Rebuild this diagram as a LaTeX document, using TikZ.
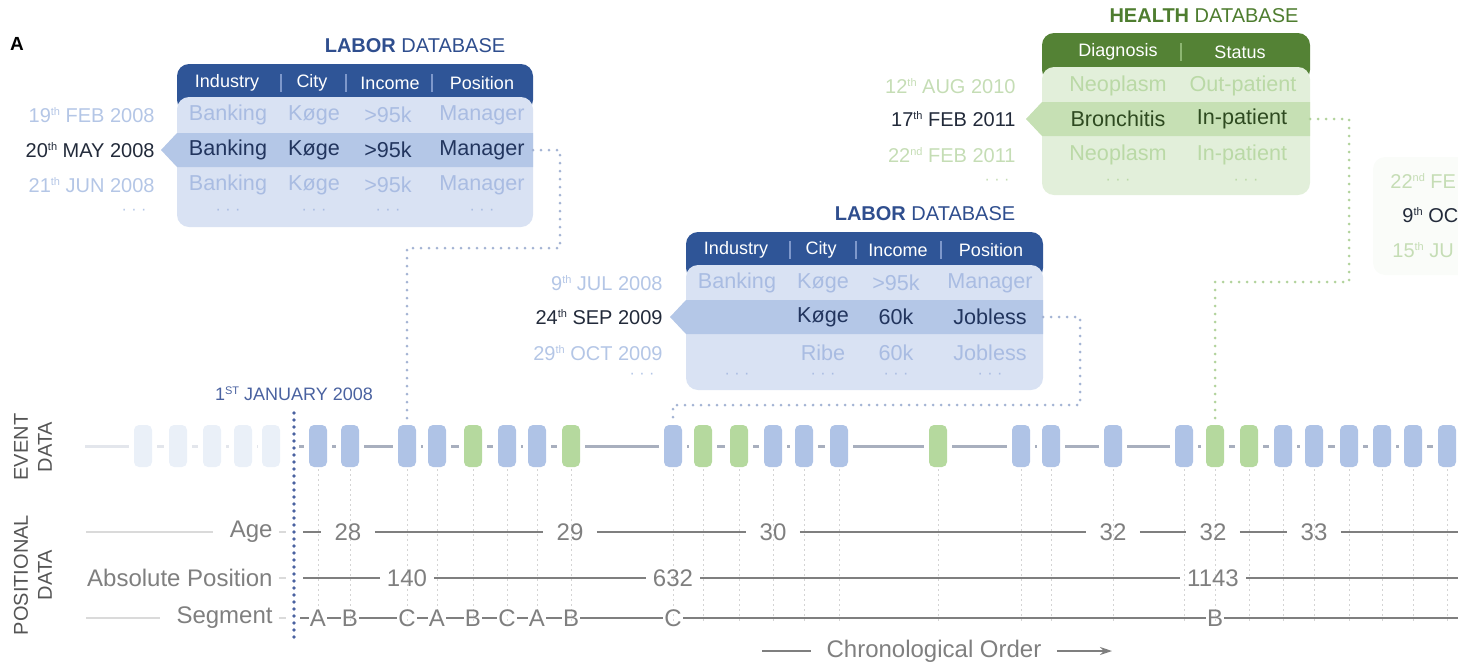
\documentclass[tikz,border=0pt]{standalone}
\usepackage{fontspec}
\setmainfont{Liberation Sans}
\usetikzlibrary{arrows.meta}

\definecolor{clabdark}{HTML}{2F5597}
\definecolor{clabttl}{HTML}{2F4E8E}
\definecolor{clabbody}{HTML}{D9E2F3}
\definecolor{clabhi}{HTML}{B4C7E7}
\definecolor{clablt}{HTML}{A9BCE2}
\definecolor{clabtx}{HTML}{22355E}
\definecolor{clabsep}{HTML}{7E98CB}
\definecolor{clabdate}{HTML}{B4C6E6}
\definecolor{clabdots}{HTML}{A4B4D4}
\definecolor{chltdark}{HTML}{548235}
\definecolor{chltttl}{HTML}{4E7D2F}
\definecolor{chltbody}{HTML}{E2EFDA}
\definecolor{chlthi}{HTML}{C6E0B4}
\definecolor{chltlt}{HTML}{BAD9A6}
\definecolor{chlttx}{HTML}{2E4A20}
\definecolor{chltsep}{HTML}{8DB672}
\definecolor{chltdate}{HTML}{C5DDB5}
\definecolor{chltdots}{HTML}{B2D39C}
\definecolor{chltfade}{HTML}{FAFCF9}
\definecolor{cdark}{HTML}{222A3A}
\definecolor{cevb}{HTML}{AFC3E6}
\definecolor{cevg}{HTML}{B5D99E}
\definecolor{cevfade}{HTML}{EAF0F8}
\definecolor{cevline}{HTML}{A8AFBE}
\definecolor{cevfline}{HTML}{E3E6EC}
\definecolor{cdrop}{HTML}{D4D4D4}
\definecolor{cpos}{HTML}{7F7F7F}
\definecolor{cposlead}{HTML}{DADADA}
\definecolor{cyear}{HTML}{4A62A0}
\definecolor{clabel}{HTML}{555555}

% small raised ordinal
\newcommand{\ord}[1]{\raisebox{0.62ex}{\fontsize{5.5}{6}\selectfont #1}}

\tikzset{
    ttl/.style={font=\fontsize{10}{12}\selectfont},
    hdr/.style={text=white, font=\fontsize{9}{11}\selectfont},
    cell/.style={font=\fontsize{10.8}{13}\selectfont},
    date/.style={anchor=east, inner sep=0pt, font=\fontsize{10}{12}\selectfont},
    dotrow/.style={font=\fontsize{8}{9}\selectfont},
    colsep/.style={line width=0.6pt},
    evbox/.style={rounded corners=2.5pt, minimum width=9pt, minimum height=21pt, inner sep=0pt},
    evlink/.style={draw=cevline, line width=1.5pt, shorten <=2.5pt, shorten >=2.5pt},
    evfaded/.style={draw=cevfline, line width=1.5pt, shorten <=2.5pt, shorten >=2.5pt},
    droplink/.style={draw=cdrop, line width=0.5pt, dash pattern=on 1pt off 1.5pt},
    labdot/.style={draw=clabdots, line width=1.5pt, line cap=round, dash pattern=on 0pt off 4pt},
    hltdot/.style={draw=chltdots, line width=1.5pt, line cap=round, dash pattern=on 0pt off 4pt},
    yearline/.style={draw=cyear, line width=1.8pt, line cap=round, dash pattern=on 0pt off 3.5pt},
    posline/.style={draw=cpos, line width=1pt},
    poslead/.style={draw=cposlead, line width=1pt},
    postxt/.style={text=cpos, font=\fontsize{12}{14}\selectfont},
    poslbl/.style={postxt, anchor=east, inner sep=0pt},
    sidelbl/.style={text=clabel, rotate=90, align=center, font=\fontsize{10}{12}\selectfont},
}

\begin{document}
\begin{tikzpicture}[x=0.5pt, y=-0.5pt]
\useasboundingbox (0,0) rectangle (1458,665);

\node[font=\bfseries\fontsize{9.5}{10}\selectfont] (panel) at (17,44) {A};

% labor database (2008)
\node[ttl, text=clabttl] (lab1) at (415,46) {\textbf{LABOR} DATABASE};
\fill[clabdark, rounded corners=6pt] (177,64) rectangle (533,112);
\fill[clabbody, rounded corners=6pt] (177,97) rectangle (533,227);
\fill[clabhi] (533,133) -- (177,133) -- (161,150) -- (177,167) -- (533,167) -- cycle;
\foreach \x in {281,346,432}
    \draw[colsep, clabsep] (\x,74) -- (\x,92);
\foreach \t/\x [count=\j] in {Industry/227,City/312,Income/390,Position/482}
    \node[hdr] (h1\j) at (\x,83) {\t};
\foreach \t/\x [count=\j] in {Banking/228,Køge/314,>95k/388,Manager/482} {
    \node[cell, text=clablt] (r1a\j) at (\x,115) {\t};
    \node[cell, text=clabtx] (r1b\j) at (\x,150) {\t};
    \node[cell, text=clablt] (r1c\j) at (\x,185) {\t};
    \node[dotrow, text=clablt] (r1d\j) at (\x,212) {· · ·};
}
\node[date, text=clabdate] (d1a) at (155,115) {19\ord{th} FEB 2008};
\node[date, text=cdark] (d1b) at (155,150) {20\ord{th} MAY 2008};
\node[date, text=clabdate] (d1c) at (155,185) {21\ord{th} JUN 2008};
\node[dotrow, text=clabdate] (d1d) at (134,212) {· · ·};
\coordinate (lab1hi) at (533,150);

% labor database (2009)
\node[ttl, text=clabttl] (lab2) at (925,214) {\textbf{LABOR} DATABASE};
\fill[clabdark, rounded corners=6pt] (686,232) rectangle (1043,280);
\fill[clabbody, rounded corners=6pt] (686,265) rectangle (1043,390);
\fill[clabhi] (1043,300) -- (686,300) -- (670,317) -- (686,334) -- (1043,334) -- cycle;
\foreach \x in {790,856,941}
    \draw[colsep, clabsep] (\x,241) -- (\x,259);
\foreach \t/\x [count=\j] in {Industry/736,City/821,Income/898,Position/991}
    \node[hdr] (h2\j) at (\x,250) {\t};
\foreach \t/\x [count=\j] in {Banking/737,Køge/823,>95k/896,Manager/990}
    \node[cell, text=clablt] (r2a\j) at (\x,283) {\t};
\foreach \t/\x [count=\j] in {Køge/823,60k/896,Jobless/990}
    \node[cell, text=clabtx] (r2b\j) at (\x,317) {\t};
\foreach \t/\x [count=\j] in {Ribe/823,60k/896,Jobless/990}
    \node[cell, text=clablt] (r2c\j) at (\x,353) {\t};
\foreach \x [count=\j] in {737,823,896,990}
    \node[dotrow, text=clablt] (r2d\j) at (\x,376) {· · ·};
\node[date, text=clabdate] (d2a) at (663,283) {9\ord{th} JUL 2008};
\node[date, text=cdark] (d2b) at (663,317) {24\ord{th} SEP 2009};
\node[date, text=clabdate] (d2c) at (663,353) {29\ord{th} OCT 2009};
\node[dotrow, text=clabdate] (d2d) at (642,376) {· · ·};
\coordinate (lab2hi) at (1043,317);

% health database
\node[ttl, text=chltttl] (hlt) at (1204,16) {\textbf{HEALTH} DATABASE};
\fill[chltdark, rounded corners=6pt] (1042,33) rectangle (1310,82);
\fill[chltbody, rounded corners=6pt] (1042,67) rectangle (1310,195);
\fill[chlthi] (1310,102) -- (1042,102) -- (1026,119) -- (1042,136) -- (1310,136) -- cycle;
\draw[colsep, chltsep] (1181,43) -- (1181,61);
\node[hdr] (h31) at (1118,52) {Diagnosis};
\node[hdr] (h32) at (1240,52) {Status};
\node[cell, text=chltlt] (r3a1) at (1118,86) {Neoplasm};
\node[cell, text=chltlt] (r3a2) at (1243,86) {Out-patient};
\node[cell, text=chlttx] (r3b1) at (1118,119) {Bronchitis};
\node[cell, text=chlttx] (r3b2) at (1242,119) {In-patient};
\node[cell, text=chltlt] (r3c1) at (1118,155) {Neoplasm};
\node[cell, text=chltlt] (r3c2) at (1242,155) {In-patient};
\node[dotrow, text=chltlt] (r3d1) at (1118,182) {· · ·};
\node[dotrow, text=chltlt] (r3d2) at (1246,182) {· · ·};
\node[date, text=chltdate] (d3a) at (1016,86) {12\ord{th} AUG 2010};
\node[date, text=cdark] (d3b) at (1016,119) {17\ord{th} FEB 2011};
\node[date, text=chltdate] (d3c) at (1016,155) {22\ord{nd} FEB 2011};
\node[dotrow, text=chltdate] (d3d) at (997,182) {· · ·};
\coordinate (hlthi) at (1310,119);

% next table, cut at the edge
\fill[chltfade, rounded corners=6pt] (1373,157) rectangle (1500,275);
\node[date, anchor=west, text=chltdate] (d4a) at (1390,181) {22\ord{nd} FE};
\node[date, anchor=west, text=cdark] (d4b) at (1402,215) {9\ord{th} OC};
\node[date, anchor=west, text=chltdate] (d4c) at (1392,250) {15\ord{th} JU};

% event data
\foreach \x [count=\i] in {143,178,212,243,271}
    \node[evbox, fill=cevfade] (f\i) at (\x,446) {};
\coordinate (fstart) at (85,446);
\draw[evfaded, shorten <=0pt] (fstart) -- (f1);
\foreach \i [evaluate=\i as \j using int(\i+1)] in {1,...,4}
    \draw[evfaded] (f\i) -- (f\j);

\foreach \x/\c [count=\i] in {318/cevb,350/cevb,407/cevb,437/cevb,473/cevg,507/cevb,537/cevb,571/cevg,
    673/cevb,703/cevg,739/cevg,773/cevb,804/cevb,839/cevb,938/cevg,1021/cevb,1051/cevb,1113/cevb,
    1184/cevb,1215/cevg,1249/cevg,1283/cevb,1314/cevb,1349/cevb,1382/cevb,1413/cevb,1447/cevb} {
    \draw[droplink] (\x,469) -- (\x,622);
    \node[evbox, fill=\c] (e\i) at (\x,446) {};
}
\foreach \i [evaluate=\i as \j using int(\i+1)] in {1,...,26}
    \draw[evlink] (e\i) -- (e\j);

% 1st january 2008
\coordinate (jtop) at (294,413);
\coordinate (jbot) at (294,640);
\draw[yearline] (jtop) -- (jbot);
\node[text=cyear, font=\fontsize{9}{11}\selectfont] (jan) at (294,394) {1\ord{ST} JANUARY 2008};
\draw[evlink] (jtop |- e1) -- (e1);

% database links
\draw[labdot] (lab1hi) -- (560,150) -- (560,248) -- (407,248) -- (e3);
\draw[labdot] (lab2hi) -- (1080,317) -- (1080,405) -- (673,405) -- (e9);
\draw[hltdot] (hlthi) -- (1349,119) -- (1349,282) -- (1215,282) -- (e20);

% positional data
\node[poslbl] (agelbl) at (273,532) {Age};
\node[poslbl] (abslbl) at (273,578) {Absolute Position};
\node[poslbl] (seglbl) at (273,618) {Segment};
\draw[poslead, shorten >=8pt] (86,532) -- (agelbl);
\draw[poslead, shorten >=8pt] (86,618) -- (seglbl);
\foreach \n in {agelbl,abslbl,seglbl}
    \draw[poslead, shorten <=3pt, shorten >=4pt] (\n.east) -- (jtop |- \n);

\coordinate (age0) at (303,532);
\coordinate (ageE) at (1458,532);
\foreach \t/\x [count=\i] in {28/348,29/570,30/773,32/1113,32/1213,33/1314}
    \node[postxt, inner xsep=6.5pt] (a\i) at (\x,532) {\t};
\draw[posline] (age0) -- (a1) -- (a2) -- (a3) -- (a4) -- (a5) -- (a6) -- (ageE);

\coordinate (abs0) at (303,578);
\coordinate (absE) at (1458,578);
\foreach \t/\x [count=\i] in {140/407,632/673,1143/1213}
    \node[postxt, inner xsep=3.5pt] (p\i) at (\x,578) {\t};
\draw[posline] (abs0) -- (p1) -- (p2) -- (p3) -- (absE);

\coordinate (seg0) at (300,618);
\coordinate (segE) at (1458,618);
\foreach \t/\x [count=\i] in {A/318,B/350,C/407,A/437,B/473,C/507,A/537,B/571,C/673,B/1215}
    \node[postxt, inner xsep=0.5pt] (s\i) at (\x,618) {\t};
\draw[posline] (seg0) -- (s1) -- (s2) -- (s3) -- (s4) -- (s5) -- (s6) -- (s7) -- (s8) -- (s9) -- (s10) -- (segE);

% side labels
\node[sidelbl] (evlbl) at (33,447) {EVENT\\DATA};
\node[sidelbl] (poslbl) at (33,575) {POSITIONAL\\DATA};

% chronological order
\node[postxt, inner xsep=7.5pt] (chron) at (934,651) {Chronological Order};
\coordinate (ch0) at (762,651);
\coordinate (ch1) at (1112,651);
\draw[posline] (ch0) -- (chron);
\draw[posline, -{Stealth[length=6pt, width=4pt]}] (chron) -- (ch1);
\end{tikzpicture}
\end{document}
